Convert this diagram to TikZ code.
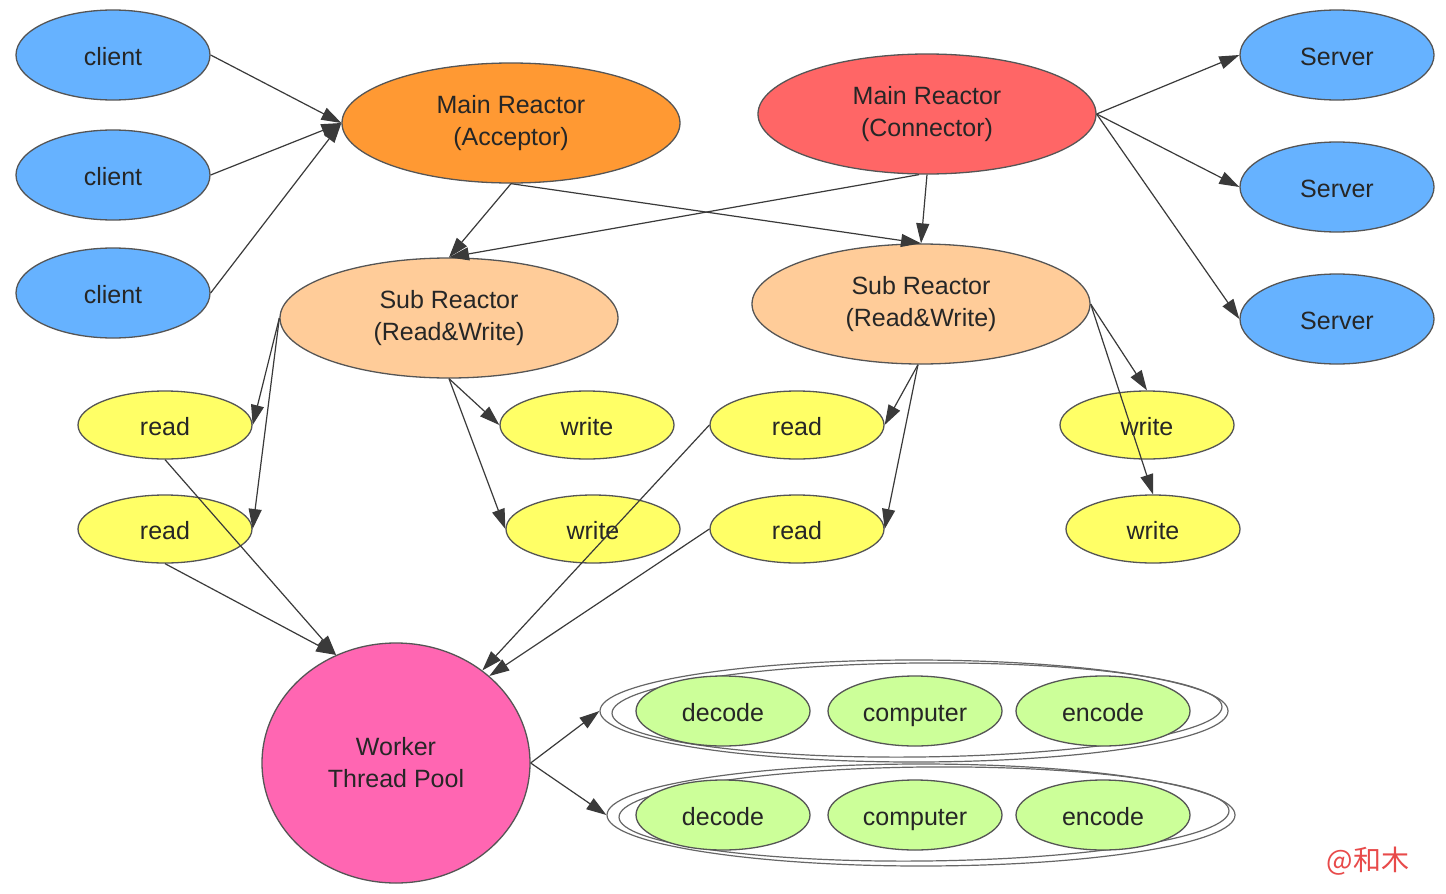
\documentclass[tikz,border=0pt]{standalone}
\usepackage{fontspec}
\setmainfont{Liberation Sans}
\newfontfamily\cjk{Noto Sans CJK SC}
\usetikzlibrary{shapes.geometric,arrows.meta}
\definecolor{cblue}{HTML}{66B2FF}
\definecolor{corange}{HTML}{FF9933}
\definecolor{cred}{HTML}{FF6666}
\definecolor{cpeach}{HTML}{FFCC99}
\definecolor{cyellow}{HTML}{FFFF66}
\definecolor{cpink}{HTML}{FF66B2}
\definecolor{cgreen}{HTML}{CCFF99}
\definecolor{cline}{HTML}{3A3A3A}
\definecolor{cborder}{HTML}{555555}
\definecolor{ctext}{HTML}{262626}
\definecolor{cmark}{HTML}{E84A4A}
\tikzset{
  ell/.style={ellipse, draw=cborder, line width=1.3pt, inner sep=0pt, align=center,
    text=ctext, font=\fontsize{25}{32}\selectfont},
  small/.style={ell, minimum width=194pt, minimum height=90pt, text height=22pt, text depth=2pt},
  big/.style={ell, minimum width=338pt, minimum height=120pt},
  tiny/.style={ell, minimum width=174pt, minimum height=68pt, text height=22pt, text depth=2pt},
  grp/.style={draw=cborder!90, line width=1.2pt},
  conn/.style={draw=cline, line width=1.2pt, -{Triangle[length=20pt,width=13pt]}},
}
\begin{document}
\begin{tikzpicture}[x=1pt,y=-1pt]
\useasboundingbox[fill=white] (0,0) rectangle (1446,894);
% clients and servers
\node[small, fill=cblue] (c1) at (113,55) {client};
\node[small, fill=cblue] (c2) at (113,175) {client};
\node[small, fill=cblue] (c3) at (113,293) {client};
\node[small, fill=cblue] (s1) at (1337,55) {Server};
\node[small, fill=cblue] (s2) at (1337,187) {Server};
\node[small, fill=cblue] (s3) at (1337,319) {Server};
% reactors
\node[big, fill=corange] (acc) at (511,123) {Main Reactor\\(Acceptor)};
\node[big, fill=cred] (con) at (927,114) {Main Reactor\\(Connector)};
\node[big, fill=cpeach] (subl) at (449,318) {Sub Reactor\\(Read\&Write)};
\node[big, fill=cpeach] (subr) at (921,304) {Sub Reactor\\(Read\&Write)};
% read / write
\node[tiny, fill=cyellow] (r1) at (165,425) {read};
\node[tiny, fill=cyellow] (r2) at (165,529) {read};
\node[tiny, fill=cyellow] (w1) at (587,425) {write};
\node[tiny, fill=cyellow] (w2) at (593,529) {write};
\node[tiny, fill=cyellow] (r3) at (797,425) {read};
\node[tiny, fill=cyellow] (r4) at (797,529) {read};
\node[tiny, fill=cyellow] (w3) at (1147,425) {write};
\node[tiny, fill=cyellow] (w4) at (1153,529) {write};
% worker
\node[ell, fill=cpink, minimum width=268pt, minimum height=240pt] (wk) at (396,763) {Worker\\ Thread Pool};
% groups
\node[ellipse, grp, minimum width=628pt, minimum height=102pt, inner sep=0pt] (g1) at (914,711) {};
\draw[grp] (917,710) ellipse [x radius=305, y radius=47, rotate=0.6];
\node[ellipse, grp, minimum width=628pt, minimum height=102pt, inner sep=0pt] (g2) at (921,815) {};
\draw[grp] (924,814) ellipse [x radius=305, y radius=47, rotate=0.6];
\node[tiny, fill=cgreen, minimum height=70pt] (d1) at (723,711) {decode};
\node[tiny, fill=cgreen, minimum height=70pt] (p1) at (915,711) {computer};
\node[tiny, fill=cgreen, minimum height=70pt] (e1) at (1103,711) {encode};
\node[tiny, fill=cgreen, minimum height=70pt] (d2) at (723,815) {decode};
\node[tiny, fill=cgreen, minimum height=70pt] (p2) at (915,815) {computer};
\node[tiny, fill=cgreen, minimum height=70pt] (e2) at (1103,815) {encode};
% watermark
\node[text=cmark, font=\cjk\fontsize{28}{30}\selectfont, inner sep=0pt] (wm) at (1368,861) {@和木};
% edges
\draw[conn] (c1.east) -- (acc.west);
\draw[conn] (c2.east) -- (acc.west);
\draw[conn] (c3.east) -- (acc.west);
\draw[conn] (acc.south) -- (subl.north);
\draw[conn] (acc.south) -- (subr.north);
\draw[conn] ([xshift=-8pt]con.south) -- (subl.north);
\draw[conn] (con.south) -- (subr.north);
\draw[conn] (con.east) -- (s1.west);
\draw[conn] (con.east) -- (s2.west);
\draw[conn] (con.east) -- (s3.west);
\draw[conn] (subl.west) -- (r1.east);
\draw[conn] (subl.west) -- (r2.east);
\draw[conn] (subl.south) -- (w1.west);
\draw[conn] (subl.south) -- (w2.west);
\draw[conn] ([xshift=-3pt]subr.south) -- (r3.east);
\draw[conn] ([xshift=-3pt]subr.south) -- (r4.east);
\draw[conn] (subr.east) -- (w3.north);
\draw[conn] (subr.east) -- (w4.north);
\draw[conn] (r1.south) -- (wk.119);
\draw[conn] (r2.south) -- (wk.119);
\draw[conn] (r3.west) -- (wk.47);
\draw[conn] (r4.west) -- (wk.43);
\draw[conn] (wk.east) -- (g1.west);
\draw[conn] (wk.east) -- (g2.west);
\end{tikzpicture}
\end{document}
